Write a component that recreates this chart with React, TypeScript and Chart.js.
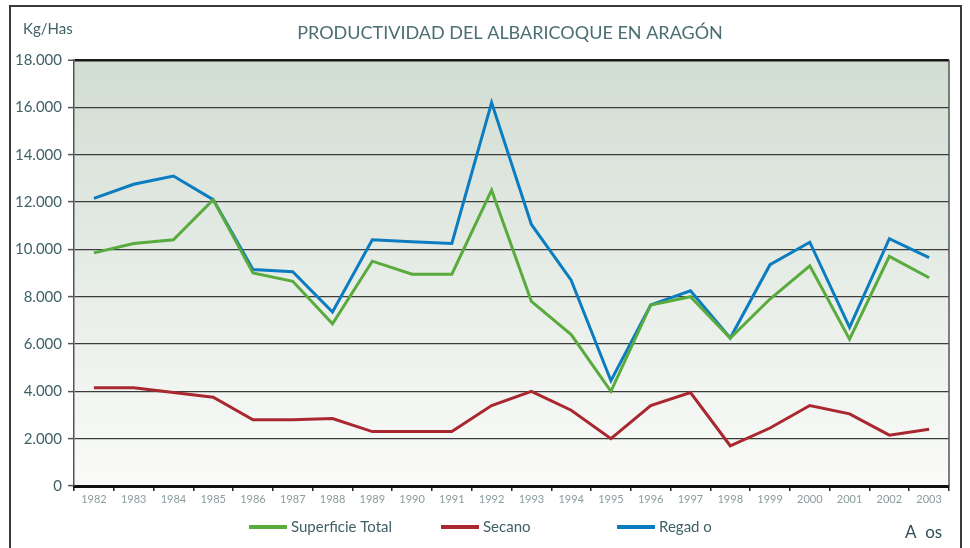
import React, { useEffect, useRef } from "react";
import { Chart, registerables } from "chart.js";

Chart.register(...registerables);

const years = ["1982","1983","1984","1985","1986","1987","1988","1989","1990","1991","1992","1993","1994","1995","1996","1997","1998","1999","2000","2001","2002","2003"];
const superficieTotal = [9850,10250,10400,12100,9000,8650,6850,9500,8950,8950,12500,7800,6400,4000,7650,8000,6250,7900,9300,6200,9700,8800];
const secano = [4150,4150,3950,3750,2800,2800,2850,2300,2300,2300,3400,4000,3200,2000,3400,3950,1700,2450,3400,3050,2150,2400];
const regadio = [12150,12750,13100,12100,9150,9050,7350,10400,10320,10250,16200,11050,8700,4450,7650,8250,6250,9350,10300,6700,10450,9650];
const seriesLabels = ["Superficie Total", "Secano", "Regad o"];
const seriesColors = ["#58ab3c", "#a9282f", "#0b7cc0"];
const titleText = "PRODUCTIVIDAD DEL ALBARICOQUE EN ARAGÓN";
const yUnit = "Kg/Has";
const xUnit = "A  os";

const FONT = "Lato, 'Open Sans', sans-serif";
const TEXT = "#3f6166";

function fmt(v: number): string {
  const s = Math.round(v).toString();
  return s.replace(/\B(?=(\d{3})+(?!\d))/g, ".");
}

const decorPlugin = {
  id: "decor",
  beforeDraw(chart: any) {
    const { ctx, chartArea: a } = chart;
    ctx.save();
    ctx.fillStyle = "#ffffff";
    ctx.fillRect(0, 0, chart.width, chart.height);
    const g = ctx.createLinearGradient(0, a.top, 0, a.bottom);
    g.addColorStop(0, "#d2ddd3");
    g.addColorStop(1, "#fafbf9");
    ctx.fillStyle = g;
    ctx.fillRect(a.left, a.top, a.right - a.left, a.bottom - a.top);
    ctx.restore();
  },
  afterDraw(chart: any) {
    const { ctx, chartArea: a } = chart;
    ctx.save();
    // outer frame
    ctx.strokeStyle = "#3a3a3a";
    ctx.lineWidth = 2;
    ctx.beginPath();
    ctx.moveTo(10, 560);
    ctx.lineTo(10, 6);
    ctx.lineTo(961, 6);
    ctx.lineTo(961, 560);
    ctx.stroke();
    // right border of plot
    ctx.strokeStyle = "#555";
    ctx.lineWidth = 1.5;
    ctx.beginPath();
    ctx.moveTo(a.right, a.top);
    ctx.lineTo(a.right, a.bottom);
    ctx.stroke();
    // title
    ctx.fillStyle = "#4a6e72";
    ctx.font = `18px ${FONT}`;
    ctx.textAlign = "center";
    ctx.textBaseline = "middle";
    ctx.fillText(titleText, 510, 33);
    // y unit
    ctx.fillStyle = TEXT;
    ctx.font = `15px ${FONT}`;
    ctx.textAlign = "left";
    ctx.fillText(yUnit, 23, 29);
    // x unit
    ctx.fillStyle = "#2f4f52";
    ctx.font = `17px ${FONT}`;
    ctx.fillText(xUnit, 905, 533);
    // legend
    const lx = [249, 441, 617];
    chart.data.datasets.forEach((ds: any, i: number) => {
      ctx.strokeStyle = ds.borderColor;
      ctx.lineWidth = 4;
      ctx.beginPath();
      ctx.moveTo(lx[i], 527);
      ctx.lineTo(lx[i] + 38, 527);
      ctx.stroke();
      ctx.fillStyle = TEXT;
      ctx.font = `15px ${FONT}`;
      ctx.textAlign = "left";
      ctx.textBaseline = "middle";
      ctx.fillText(ds.label, lx[i] + 42, 527);
    });
    ctx.restore();
  },
};

export default function App() {
  const ref = useRef<HTMLCanvasElement | null>(null);
  useEffect(() => {
    if (!ref.current) return;
    const values = [superficieTotal, secano, regadio];
    const chart = new Chart(ref.current, {
      type: "line",
      data: {
        labels: years,
        datasets: values.map((d, i) => ({
          label: seriesLabels[i],
          data: d,
          borderColor: seriesColors[i],
          backgroundColor: seriesColors[i],
          borderWidth: 3,
          pointRadius: 0,
          tension: 0,
          fill: false,
        })),
      },
      options: {
        animation: false,
        responsive: false,
        layout: { padding: { left: 0, right: 21, top: 60, bottom: 0 } },
        plugins: {
          legend: { display: false },
          title: { display: false },
          tooltip: { enabled: false },
        },
        scales: {
          x: {
            type: "category",
            offset: true,
            afterFit: (s: any) => { s.height = 62; },
            grid: {
              drawOnChartArea: false,
              drawTicks: true,
              tickLength: 5,
              color: "#222",
              lineWidth: 1.5,
              offset: true,
            },
            border: { color: "#111", width: 3 },
            ticks: {
              color: "#8a9c9c",
              font: { family: FONT, size: 11 },
              padding: 2,
              maxRotation: 0,
              autoSkip: false,
            },
          },
          y: {
            min: 0,
            max: 18000,
            afterFit: (s: any) => { s.width = 74; },
            grid: {
              color: (c: any) => (c.tick && c.tick.value === 18000 ? "#1a1a1a" : "#3c3c3c"),
              lineWidth: (c: any) => (c.tick && c.tick.value === 18000 ? 2.5 : 1.2),
              tickLength: 6,
              tickColor: "#555",
              tickWidth: 1.5,
            },
            border: { color: "#555", width: 1.5 },
            ticks: {
              stepSize: 2000,
              color: TEXT,
              font: { family: FONT, size: 15 },
              padding: 6,
              callback: (v: any) => fmt(Number(v)),
            },
          },
        },
      },
      plugins: [decorPlugin],
    } as any);
    return () => chart.destroy();
  }, []);
  return (
    <div style={{ position: "absolute", left: 0, top: 0, width: 970, height: 548 }}>
      <canvas ref={ref} width={970} height={548} style={{ display: "block" }} />
    </div>
  );
}
